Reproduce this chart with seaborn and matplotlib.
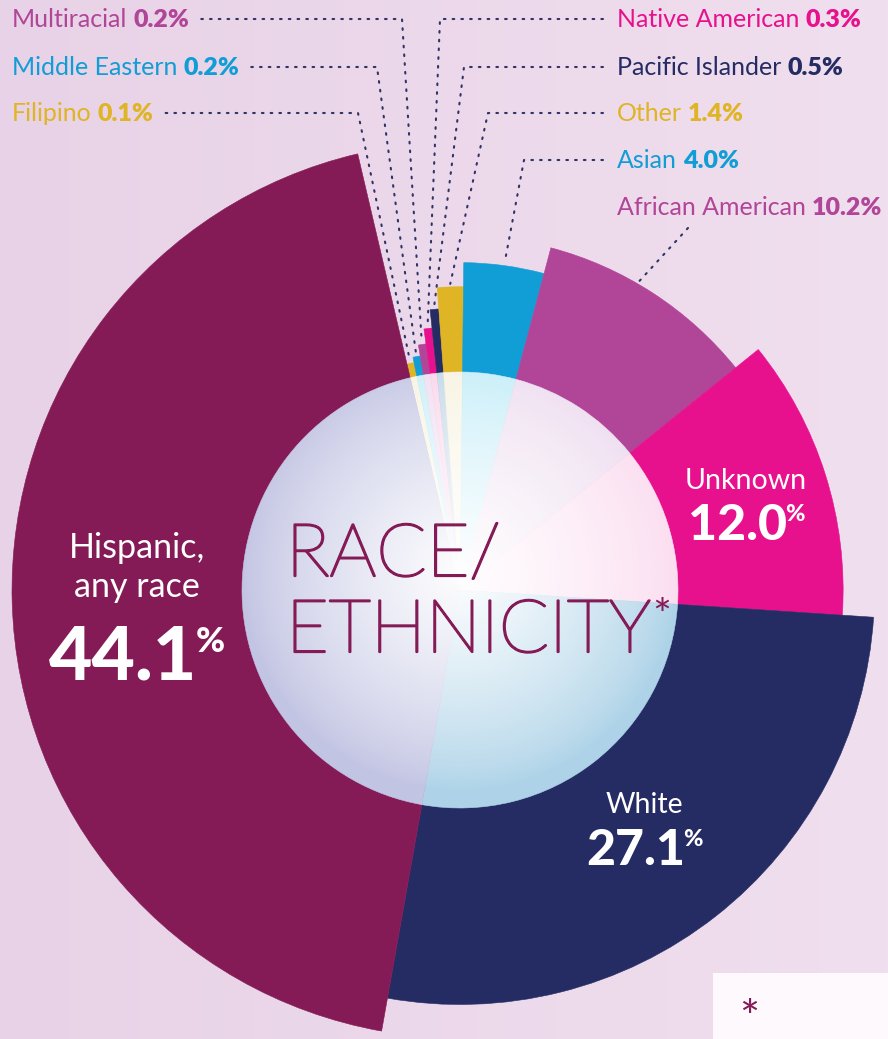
import numpy as np
import matplotlib
matplotlib.use("Agg")
import matplotlib.pyplot as plt
import matplotlib.patheffects as pe
import seaborn as sns
from matplotlib.patches import Circle, Rectangle

# ---------------- data (clockwise from the top) ----------------
categories = ["Filipino", "Middle Eastern", "Multiracial", "Native American",
              "Pacific Islander", "Other", "Asian", "African American",
              "Unknown", "White", "Hispanic, any race"]
percent = [0.1, 0.2, 0.2, 0.3, 0.5, 1.4, 4.0, 10.2, 12.0, 27.1, 44.1]
center_title = ["RACE/", "ETHNICITY"]

# ---------------- styles ----------------
sns.set_theme(style="white")
plt.rcParams["font.family"] = ["Lato", "DejaVu Sans"]

MAROON, NAVY, PINK, PURPLE, BLUE, GOLD = "#841B56", "#252C63", "#E8118D", "#B14598", "#119DD5", "#DFB425"
colors = sns.color_palette([GOLD, BLUE, PURPLE, PINK, NAVY, GOLD, BLUE, PURPLE, PINK, NAVY, MAROON])
tints = ["#F7F3E1", "#C6EEF8", "#EEDCF0", "#FAD3EA", "#BFD6E6", "#F7F3E1",
         "#C4EDF8", "#EEDDF0", "#FBDDF0", "#AED3E8", "#C2C4E3"]

W, H = 888, 1039
CX, CY = 460, 590          # pie centre (pixels from top-left)
RMAX = 460
R_IN = 218
START_DEG = -13.2          # compass angle where the first slice begins

fig = plt.figure(figsize=(W / 100, H / 100), dpi=100)

# background gradient
bg = fig.add_axes([0, 0, 1, 1], zorder=0)
c0 = np.array([232, 210, 231]) / 255
c1 = np.array([240, 223, 238]) / 255
t = np.linspace(0, 1, 256)[None, :, None]
grad = c0 * (1 - t) + c1 * t
bg.imshow(grad, extent=[0, W, H, 0], aspect="auto")
bg.set_xlim(0, W); bg.set_ylim(H, 0); bg.axis("off")

# polar pie with varying radius
pax = fig.add_axes([(CX - RMAX) / W, (H - CY - RMAX) / H, 2 * RMAX / W, 2 * RMAX / H],
                   projection="polar", zorder=1)
pax.set_theta_zero_location("N")
pax.set_theta_direction(-1)
pax.set_ylim(0, RMAX)
pax.set_axis_off()

vals = np.array(percent)
shares = np.maximum(vals, 0.5)
widths = shares / shares.sum() * 2 * np.pi
starts = np.deg2rad(START_DEG) + np.concatenate([[0], np.cumsum(widths)[:-1]])
centers = starts + widths / 2
rank = np.argsort(np.argsort(vals, kind="stable"), kind="stable")
radii = 232 + 216 * (rank / (len(vals) - 1)) ** 1.6

pax.bar(centers, radii, width=widths, bottom=0, color=colors,
        edgecolor=colors, linewidth=0.4, align="center")
pax.bar(centers, np.full(len(vals), R_IN), width=widths, bottom=0, color=tints,
        edgecolor=tints, linewidth=0.4, align="center")

# overlay axes in pixel coordinates
ov = fig.add_axes([0, 0, 1, 1], zorder=2)
ov.set_xlim(0, W); ov.set_ylim(H, 0); ov.axis("off")

# radial white glow inside the inner circle
n = 400
yy, xx = np.mgrid[-1:1:n * 1j, -1:1:n * 1j]
d = np.sqrt(xx ** 2 + (yy + 0.08) ** 2)
alpha = 0.98 * np.clip(1 - d, 0, 1) ** 0.75
glow = np.zeros((n, n, 4)); glow[..., :3] = 1.0; glow[..., 3] = alpha
im = ov.imshow(glow, extent=[CX - R_IN, CX + R_IN, CY + R_IN, CY - R_IN], zorder=2)
clip = Circle((CX, CY), R_IN, transform=ov.transData)
im.set_clip_path(clip)

renderer = fig.canvas.get_renderer()


def rich(x, y, parts, ha="left"):
    """parts: list of (text, kwargs, rise, gap_before). y is baseline."""
    arts, ws = [], []
    for s, kw, rise, gap in parts:
        a = ov.text(0, y - rise, s, va="baseline", ha="left", zorder=5, **kw)
        ws.append(a.get_window_extent(renderer=renderer).width)
        arts.append(a)
    gaps = [p[3] for p in parts]
    total = sum(ws) + sum(gaps)
    x0 = x if ha == "left" else (x - total / 2 if ha == "center" else x - total)
    cur = x0
    for a, w, g in zip(arts, ws, gaps):
        cur += g
        a.set_x(cur)
        cur += w
    return x0, x0 + total


LBL = 18
def small_label(idx, x, y, ha="left"):
    c = colors[idx]
    return rich(x, y, [(categories[idx], dict(fontsize=LBL, color=c), 0, 0),
                       (f"{percent[idx]:.1f}%", dict(fontsize=LBL, color=c, fontweight="heavy"), 0, 6)], ha=ha)


def slice_tip(idx, extra=3, frac=0.5):
    th = starts[idx] + frac * widths[idx]
    r = radii[idx] + extra
    return CX + r * np.sin(th), CY - r * np.cos(th)


DOT = dict(color="#2E3466", lw=1.5, linestyle=(0, (0.8, 3.4)), zorder=4,
           solid_capstyle="round", dash_capstyle="round")

# left side labels: Multiracial, Middle Eastern, Filipino
left = [(2, 27, 402), (1, 75, 377), (0, 121, 358)]
for idx, yb, bend in left:
    _, xe = small_label(idx, 12, yb)
    ym = yb - 8
    tx, ty = slice_tip(idx)
    ov.plot([xe + 12, bend, tx], [ym, ym, ty], **DOT)

# right side labels
right = [(3, 27, 440), (4, 75, 464), (5, 121, 488), (6, 168, 524)]
for idx, yb, bend in right:
    small_label(idx, 617, yb)
    ym = yb - 8
    tx, ty = slice_tip(idx)
    ov.plot([603, bend, tx], [ym, ym, ty], **DOT)

small_label(7, 617, 215)
tx, ty = slice_tip(7, extra=2, frac=0.42)
ov.plot([688, tx], [228, ty], **DOT)

# big in-slice labels
WHITE = "white"
def big_label(lines, num, xc, y_first, line_h, y_num, num_size, name_size):
    for k, s in enumerate(lines):
        ov.text(xc, y_first + k * line_h, s, ha="center", va="baseline",
                fontsize=name_size, color=WHITE, zorder=5)
    rich(xc, y_num, [(num, dict(fontsize=num_size, color=WHITE, fontweight="black"), 0, 0),
                     ("%", dict(fontsize=num_size * 0.47, color=WHITE, fontweight="black"),
                      num_size * 1.389 * 0.37, -2)], ha="center")

big_label(["Hispanic,", "any race"], f"{percent[10]:.1f}", 137, 558, 39, 680, 54, 24.5)
big_label(["Unknown"], f"{percent[8]:.1f}", 746, 489, 0, 540, 36, 20.5)
big_label(["White"], f"{percent[9]:.1f}", 644, 813, 0, 865, 36, 20.5)

# centre title
TS = 53
thick = [pe.withStroke(linewidth=1.6, foreground=MAROON)]
ov.text(286, 576, center_title[0], fontsize=TS, fontweight="light", color=MAROON,
        ha="left", va="baseline", zorder=5, path_effects=thick)
t2 = ov.text(286, 652, center_title[1], fontsize=TS, fontweight="light", color=MAROON,
             ha="left", va="baseline", zorder=5, path_effects=thick)
bb = t2.get_window_extent(renderer=renderer)
ov.text(bb.x1 + 1, 630, "*", fontsize=32, fontweight="normal", color=MAROON,
        ha="left", va="baseline", zorder=5)

# footnote box (cut off at the bottom right)
ov.add_patch(Rectangle((713, 973), W - 713, H - 973, facecolor="#FDF9FC",
                       edgecolor="none", zorder=3))
ov.text(739, 1033, "*", fontsize=34, fontweight="normal", color=MAROON,
        ha="left", va="baseline", zorder=5)

fig.savefig("out.png", dpi=100)
